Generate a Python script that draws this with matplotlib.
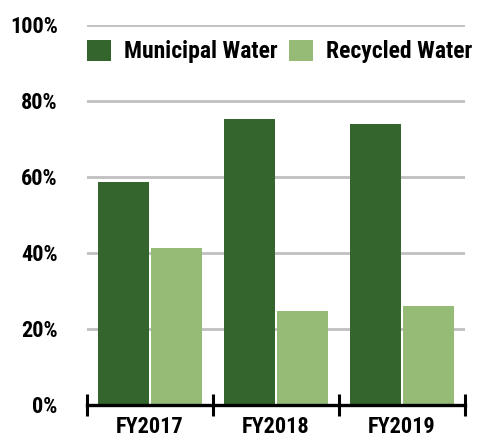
import matplotlib
matplotlib.use("Agg")
import matplotlib.pyplot as plt
from matplotlib import font_manager as fm
import numpy as np

# ── data ─────────────────────────────────────────────
years      = ["FY2017", "FY2018", "FY2019"]
municipal  = [58.6, 75.2, 73.9]
recycled   = [41.4, 24.8, 26.1]
y_ticks    = [0, 20, 40, 60, 80, 100]

DARK  = "#33652c"
LIGHT = "#95bb77"
GRID  = "#c0c0c0"

# pick a narrow bold face if one is installed (reference uses a DIN-like condensed font)
prefs = ["RobotoCondensed-Bold", "OpenSansCondensed-Bold", "OpenSans_Condensed-Bold",
         "LiberationSansNarrow-Bold", "DejaVuSansCondensed-Bold"]
files = [f.fname for f in fm.fontManager.ttflist]
font_file = None
for p in prefs:
    hits = [f for f in files if p.lower() in f.lower().replace(" ", "")]
    if hits:
        font_file = hits[0]
        break
if font_file is None:
    hits = [f for f in files if ("condensed" in f.lower() or "narrow" in f.lower())
            and "bold" in f.lower() and "oblique" not in f.lower() and "italic" not in f.lower()]
    font_file = hits[0] if hits else None

def fp(size):
    if font_file:
        return fm.FontProperties(fname=font_file, size=size)
    return fm.FontProperties(family="DejaVu Sans", weight="bold", size=size * 0.8)

fig = plt.figure(figsize=(4.79, 4.43), dpi=100)
ax  = fig.add_axes([0.1816, 0.0858, 0.789, 0.8578])

x = np.arange(len(years))
w = 0.405
ax.bar(x - 0.212, municipal, width=w, color=DARK, label="Municipal Water", zorder=3)
ax.bar(x + 0.212, recycled, width=w, color=LIGHT, label="Recycled Water", zorder=3)

ax.set_xlim(-0.5, 2.5)
ax.set_ylim(0, 100)
ax.set_yticks(y_ticks)
ax.set_yticklabels([f"{t}%" for t in y_ticks], fontproperties=fp(16))
ax.tick_params(axis="y", length=0, pad=21)
for t in y_ticks[1:]:
    ax.axhline(t, color=GRID, linewidth=2, zorder=1)

ax.set_xticks(x)
ax.set_xticklabels(years, fontproperties=fp(16))
ax.tick_params(axis="x", which="major", length=0, pad=8)
ax.set_xticks([-0.5, 0.5, 1.5, 2.5], minor=True)
ax.tick_params(axis="x", which="minor", direction="inout", length=16, width=2.2, color="black")

for s in ["top", "right", "left"]:
    ax.spines[s].set_visible(False)
ax.spines["bottom"].set_linewidth(2.4)
ax.spines["bottom"].set_zorder(4)

ax.legend(loc="center left", bbox_to_anchor=(0.0, 0.93), ncol=2, frameon=False,
          handlelength=1.0, handleheight=1.0, handletextpad=0.55,
          columnspacing=0.5, borderaxespad=0, borderpad=0, prop=fp(17))

fig.savefig("out.png", dpi=100)
